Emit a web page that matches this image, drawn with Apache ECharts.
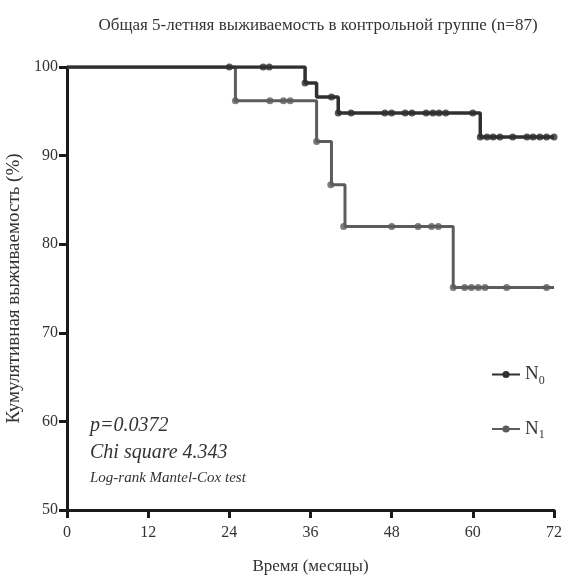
<!DOCTYPE html>
<html>
<head>
<meta charset="utf-8">
<script src="https://cdn.jsdelivr.net/npm/echarts@6/dist/echarts.min.js"></script>
<style>
  html, body { margin: 0; padding: 0; background: #fff; }
  #chart { width: 568px; height: 576px; }
</style>
</head>
<body>
<div id="chart"></div>
<script>
const xTicks = [0, 12, 24, 36, 48, 60, 72]
const yTicks = [50, 60, 70, 80, 90, 100]

// step points [months, survival %]
const n0Steps = [[0, 100], [35.2, 98.2], [36.9, 96.6], [40.1, 94.8], [61.1, 92.1], [72, 92.1]]
const n1Steps = [[0, 100], [24.9, 96.2], [36.9, 91.6], [39.1, 86.7], [41.1, 82.0], [57.1, 75.1], [72, 75.1]]

// dots drawn on the curves
const n0Dots = [
  [24, 100], [29, 100], [29.9, 100], [35.2, 98.2], [39.1, 96.6],
  [40.1, 94.8], [42, 94.8], [47, 94.8], [48, 94.8], [50, 94.8], [51, 94.8],
  [53.1, 94.8], [54.1, 94.8], [55, 94.8], [56, 94.8], [60, 94.8],
  [61.1, 92.1], [62.1, 92.1], [63, 92.1], [64, 92.1], [65.9, 92.1],
  [68, 92.1], [68.9, 92.1], [69.9, 92.1], [70.9, 92.1], [72, 92.1]
]
const n1Dots = [
  [24.9, 96.2], [30, 96.2], [32, 96.2], [33, 96.2], [36.9, 91.6], [39, 86.7],
  [40.9, 82], [48, 82], [51.9, 82], [53.9, 82], [54.9, 82],
  [57.1, 75.1], [58.8, 75.1], [59.8, 75.1], [60.8, 75.1], [61.8, 75.1], [65, 75.1], [70.9, 75.1]
]

const colorN0 = '#303030'
const colorN1 = '#5c5c5c'
const font = '"Liberation Serif", "DejaVu Serif", serif'

const chart = echarts.init(document.getElementById('chart'))

const axisCommon = {
  axisLine: { show: true, lineStyle: { color: '#1a1a1a', width: 3 } },
  axisTick: { show: true, length: 8, lineStyle: { color: '#1a1a1a', width: 3 } },
  splitLine: { show: false },
  axisLabel: { color: '#333', fontFamily: font, fontSize: 16 }
}

chart.setOption({
  animation: false,
  title: {
    text: 'Общая 5-летняя выживаемость в контрольной группе (n=87)',
    left: 313,
    textAlign: 'center',
    top: 12,
    textStyle: { fontFamily: font, fontSize: 17, fontWeight: 'normal', color: '#333' }
  },
  grid: { left: 67, right: 14, top: 67, bottom: 66, outerBoundsMode: 'none' },
  xAxis: {
    type: 'value',
    min: 0,
    max: 72,
    interval: 12,
    name: 'Время (месяцы)',
    nameLocation: 'middle',
    nameGap: 48,
    nameTextStyle: { fontFamily: font, fontSize: 17, color: '#333' },
    ...axisCommon,
    axisLabel: { ...axisCommon.axisLabel, margin: 15, formatter: v => xTicks.includes(v) ? String(v) : '' }
  },
  yAxis: {
    type: 'value',
    min: 50,
    max: 100,
    interval: 10,
    name: 'Кумулятивная выживаемость (%)',
    nameLocation: 'middle',
    nameGap: 39,
    nameTextStyle: { fontFamily: font, fontSize: 19, color: '#333' },
    ...axisCommon,
    axisLabel: { ...axisCommon.axisLabel, margin: 9, formatter: v => yTicks.includes(v) ? String(v) : '' }
  },
  legend: {
    orient: 'vertical',
    left: 486,
    top: 360,
    itemGap: 33,
    itemWidth: 28,
    itemHeight: 9,
    data: ['N0', 'N1'],
    formatter: name => '{b|N}{s|' + name.slice(1) + '}',
    textStyle: {
      color: '#333',
      rich: {
        b: { fontFamily: font, fontSize: 19, color: '#333' },
        s: { fontFamily: font, fontSize: 12, color: '#333', verticalAlign: 'bottom', padding: [12, 0, 0, 0] }
      }
    }
  },
  graphic: [
    { type: 'text', left: 90, top: 416, style: { text: 'p=0.0372', font: 'italic 20px ' + font, fill: '#333' } },
    { type: 'text', left: 90, top: 443, style: { text: 'Chi square 4.343', font: 'italic 20px ' + font, fill: '#333' } },
    { type: 'text', left: 90, top: 471, style: { text: 'Log-rank Mantel-Cox test', font: 'italic 15px ' + font, fill: '#333' } }
  ],
  series: [
    {
      name: 'N0', type: 'line', step: 'end', data: n0Steps,
      symbol: 'circle', symbolSize: 7, showSymbol: false,
      lineStyle: { color: colorN0, width: 3.5 }, itemStyle: { color: colorN0 }, z: 3
    },
    {
      name: 'N1', type: 'line', step: 'end', data: n1Steps,
      symbol: 'circle', symbolSize: 7, showSymbol: false,
      lineStyle: { color: colorN1, width: 3 }, itemStyle: { color: colorN1 }, z: 2
    },
    { name: 'N0', type: 'scatter', data: n0Dots, symbolSize: 7, itemStyle: { color: colorN0 }, z: 4 },
    { name: 'N1', type: 'scatter', data: n1Dots, symbolSize: 7, itemStyle: { color: colorN1 }, z: 4 }
  ]
})
</script>
</body>
</html>
